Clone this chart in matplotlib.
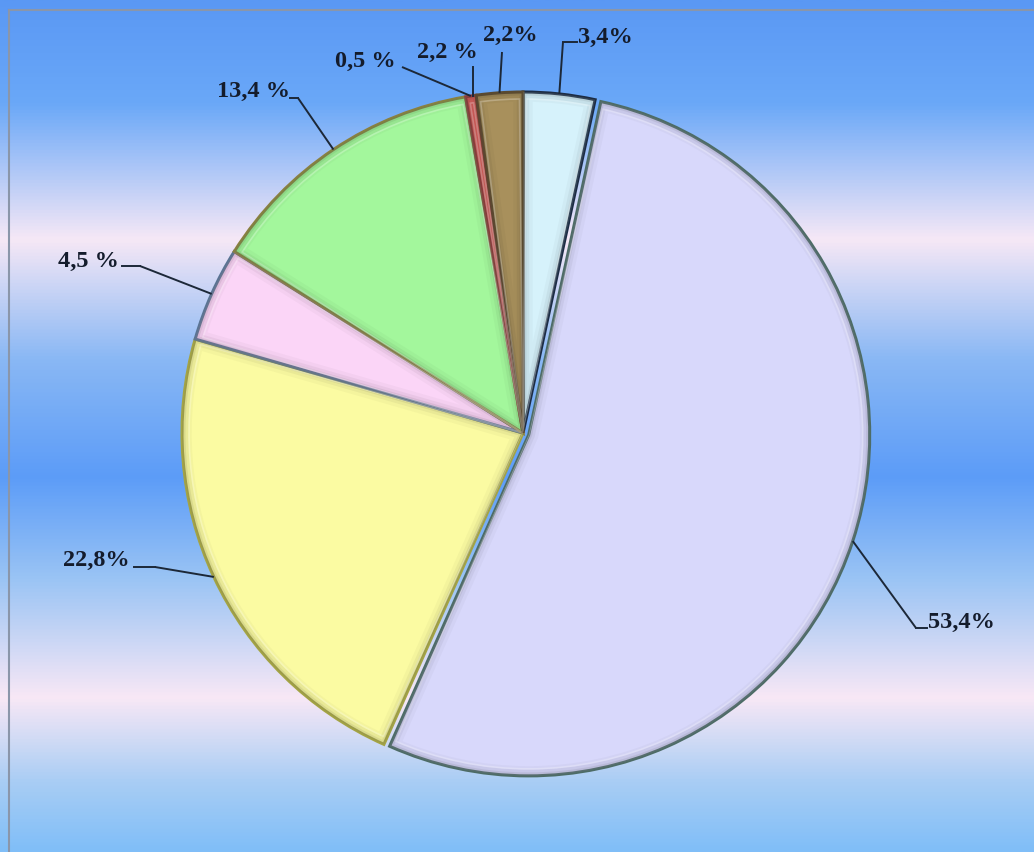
import numpy as np
import matplotlib
matplotlib.use("Agg")
import matplotlib.pyplot as plt
from matplotlib.colors import LinearSegmentedColormap, to_rgb
from matplotlib.patches import Wedge

# ---- data ----
values = [3.4, 53.4, 22.8, 4.5, 13.4, 0.5, 2.2]
labels = ["3,4%", "53,4%", "22,8%", "4,5 %", "13,4 %", "0,5 %", "2,2%"]
extra_label = "2,2 %"   # second label attached to the thin red slice
face_colors = ["#d6f2fb", "#d8d8fb", "#fbfba2", "#fbd5f7", "#a3f79c", "#d4605c", "#a8905c"]
edge_colors = ["#1c2c44", "#4d6c66", "#a4a444", "#5a7494", "#8a8040", "#904040", "#5a4a30"]
explode_px = [0, 6, 0, 0, 0, 0, 0]

W, H = 1034, 852
fig = plt.figure(figsize=(W / 100, H / 100), dpi=100)

# ---- background gradient ----
bg = fig.add_axes([0, 0, 1, 1])
bg.set_axis_off()
stops = [(0.0, "#5a98f4"), (0.12, "#6aa8f8"), (0.28, "#f6e8f6"),
         (0.42, "#8ab8f4"), (0.56, "#5c9cf8"), (0.68, "#9ac4f4"),
         (0.82, "#f8e8f6"), (0.92, "#a8cdf4"), (1.0, "#80bef8")]
cmap = LinearSegmentedColormap.from_list("bgband", stops)
grad = np.linspace(0, 1, 512).reshape(-1, 1)
bg.imshow(grad, aspect="auto", cmap=cmap, extent=[0, W, H, 0])
bg.set_xlim(0, W)
bg.set_ylim(H, 0)
bg.plot([9, 9], [10, H], color="#8a96aa", lw=1.5)
bg.plot([9, W], [10, 10], color="#8a96aa", lw=1.5)

# ---- pie in pixel coordinates ----
ax = fig.add_axes([0, 0, 1, 1])
ax.set_axis_off()
cx, cy, R = 523, H - 433, 341

wedges, _ = ax.pie(values, startangle=90, counterclock=False, colors=face_colors,
                   explode=explode_px, center=(cx, cy), radius=R, frame=True,
                   wedgeprops=dict(linewidth=2.2))
for w, ec in zip(wedges, edge_colors):
    w.set_edgecolor(ec)
ax.set_xlim(0, W)
ax.set_ylim(0, H)
ax.set_aspect("equal")
ax.set_axis_off()

# inner bevel shadow (soft darker band inside each wedge edge)
for w, fc in zip(wedges, face_colors):
    dark = tuple(np.array(to_rgb(fc)) * 0.55)
    for lw, a in [(14, 0.06), (9, 0.10), (5, 0.16)]:
        s = Wedge(w.center, w.r, w.theta1, w.theta2, facecolor="none",
                  edgecolor=dark, linewidth=lw, alpha=a, zorder=w.get_zorder() + 0.1)
        ax.add_patch(s)
        s.set_clip_path(w)
    hl = Wedge(w.center, w.r - 7, w.theta1 + 0.6, w.theta2 - 0.6, facecolor="none",
               edgecolor="white", linewidth=1.2, alpha=0.25, zorder=w.get_zorder() + 0.2)
    ax.add_patch(hl)
    hl.set_clip_path(w)

font = dict(family="Liberation Serif", weight="bold", fontsize=17.5, color="#141c2c")
lc = "#1c2838"

def anchor(w):
    ang = np.deg2rad((w.theta1 + w.theta2) / 2)
    x0, y0 = w.center
    return x0 + w.r * np.cos(ang), y0 + w.r * np.sin(ang)

# label positions (pixel coords of text left / centre line) and elbow points
label_pos = [(578, 37), (928, 622), (63, 560), (58, 261), (217, 91), (335, 61), (483, 35)]
elbow = [(563, 42), (916, 628), (155, 567), (140, 266), (298, 98), (402, 67), (502, 52)]
tail = [(577, 42), (927, 628), (134, 567), (122, 266), (290, 98), None, None]

for w, lab, (tx, ty), (ex, ey), t in zip(wedges, labels, label_pos, elbow, tail):
    axp, ayp = anchor(w)
    ax.plot([axp, ex], [ayp, H - ey], color=lc, lw=1.4, solid_capstyle="butt")
    if t is not None:
        ax.plot([ex, t[0]], [H - ey, H - t[1]], color=lc, lw=1.4)
    ax.text(tx, H - ty, lab, ha="left", va="center", **font)

# extra label on red slice
red = wedges[5]
axp, ayp = anchor(red)
ax.plot([473, 473], [H - 67, ayp], color=lc, lw=1.4)
ax.text(417, H - 52, extra_label, ha="left", va="center", **font)

fig.savefig("out.png", dpi=100)
